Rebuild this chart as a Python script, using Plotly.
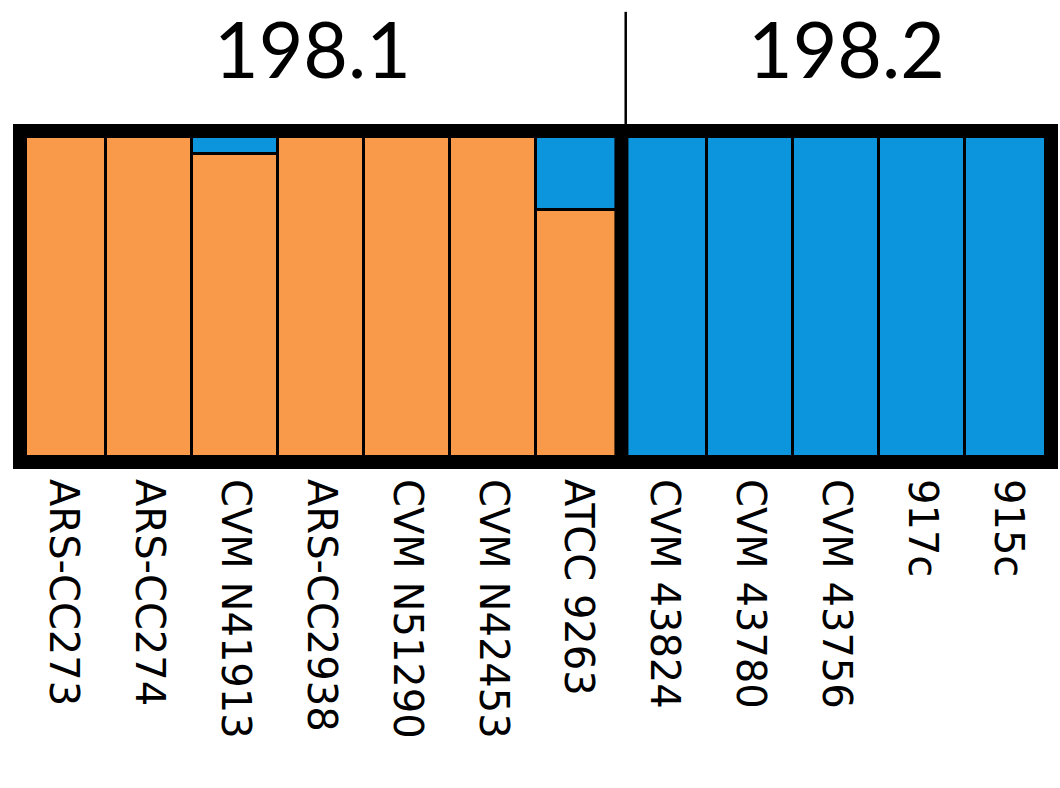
import plotly.graph_objects as go

samples = ["ARS-CC273", "ARS-CC274", "CVM N41913", "ARS-CC2938", "CVM N51290",
           "CVM N42453", "ATCC 9263", "CVM 43824", "CVM 43780", "CVM 43756",
           "917c", "915c"]
cluster_orange = [1.0, 1.0, 0.93, 1.0, 1.0, 1.0, 0.76, 0.0, 0.0, 0.0, 0.0, 0.0]
cluster_blue = [0.0, 0.0, 0.07, 0.0, 0.0, 0.0, 0.24, 1.0, 1.0, 1.0, 1.0, 1.0]
group_labels = ["198.1", "198.2"]
group_centers = [3, 9]
group_divider = 6.5

ORANGE = "#F99A4B"
BLUE = "#0C95DC"

x = list(range(len(samples)))

fig = go.Figure()
fig.add_trace(go.Bar(x=x, y=cluster_orange, marker=dict(color=ORANGE, line=dict(color="black", width=3)),
                     showlegend=False, hoverinfo="skip"))
fig.add_trace(go.Bar(x=x, y=cluster_blue, marker=dict(color=BLUE, line=dict(color="black", width=3)),
                     showlegend=False, hoverinfo="skip"))

shapes = [
    dict(type="line", xref="x", yref="y", x0=group_divider, x1=group_divider, y0=0, y1=1,
         line=dict(color="black", width=14), layer="above"),
    dict(type="line", xref="x", yref="paper", x0=group_divider + 0.05, x1=group_divider + 0.05, y0=1, y1=1.36,
         line=dict(color="black", width=2.5), layer="above"),
    dict(type="rect", xref="paper", yref="paper", x0=0, x1=1, y0=0, y1=1,
         line=dict(color="black", width=14), fillcolor="rgba(0,0,0,0)", layer="above"),
]

label_shifts = [-8, 10]
annotations = [
    dict(text=t, x=c, xref="x", y=1.395, yref="paper", showarrow=False,
         xanchor="center", yanchor="top", xshift=s,
         font=dict(family="Lato", size=77, color="black"))
    for t, c, s in zip(group_labels, group_centers, label_shifts)
]

fig.update_layout(
    width=1060, height=788,
    margin=dict(l=20, r=9, t=131, b=326, autoexpand=False),
    barmode="stack", bargap=0,
    paper_bgcolor="white", plot_bgcolor="white",
    shapes=shapes, annotations=annotations,
    xaxis=dict(range=[-0.5, 11.5], tickmode="array", tickvals=x, ticktext=samples,
               tickangle=90, showgrid=False, zeroline=False, showline=False,
               ticks="", ticklabelstandoff=16, automargin=False,
               tickfont=dict(family="DejaVu Sans", size=40, color="black")),
    yaxis=dict(range=[0, 1], visible=False, showgrid=False, zeroline=False, automargin=False),
)

fig.write_html("out.html", config={"displayModeBar": False},
               post_script="document.body.style.margin='0';document.body.style.overflow='hidden';")
